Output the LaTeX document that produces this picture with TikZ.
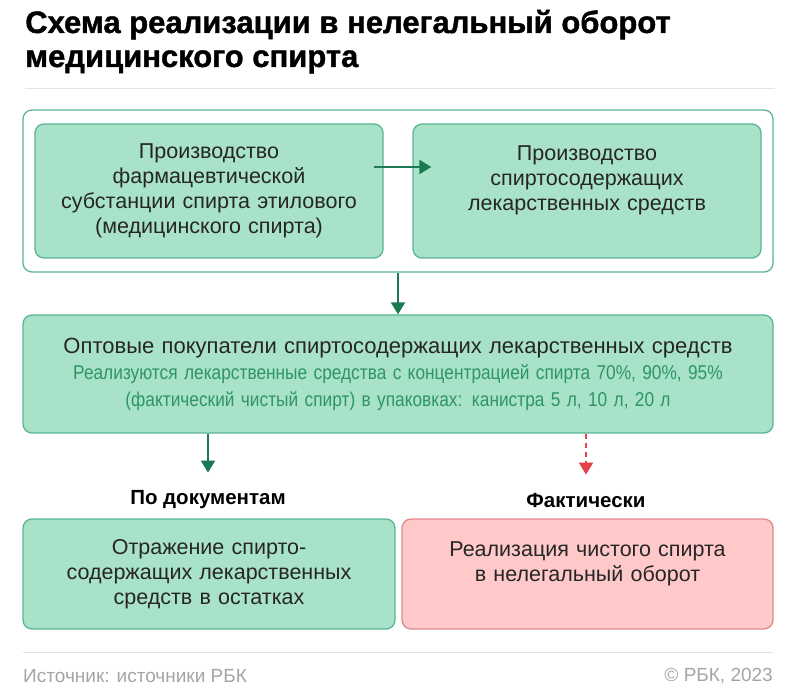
\documentclass[tikz,border=0pt]{standalone}
\usepackage{fontspec}
\setmainfont{Liberation Sans}
\newfontfamily\heavyfont[FakeBold=1.2]{Liberation Sans Bold}
\newcommand{\narrowline}[1]{\scalebox{0.865}[1]{\fontsize{20}{26.5}\selectfont\color{textgreen}#1}}
\usetikzlibrary{arrows.meta}
\definecolor{mint}{HTML}{A8E2C9}
\definecolor{mintline}{HTML}{5CB592}
\definecolor{darkgreen}{HTML}{1C7A52}
\definecolor{textgreen}{HTML}{2F9467}
\definecolor{rose}{HTML}{FFC8C9}
\definecolor{roseline}{HTML}{DE8A8C}
\definecolor{arrowred}{HTML}{E5414A}
\definecolor{rulegray}{HTML}{E2E2E2}
\definecolor{notegray}{HTML}{A5A5A5}

\begin{document}
\begin{tikzpicture}[x=1pt,y=-1pt]
		\tikzset{box/.style={draw=#1,line width=1.3pt,rounded corners=9pt,inner sep=0pt,align=center,text=black!85,font=\fontsize{21.5}{25}\selectfont},
			flow arrow/.style={-{Triangle[length=12pt,width=14pt]},line width=2pt,#1},
			branch label/.style={inner sep=0pt,font=\fontsize{20.5}{24}\selectfont\bfseries}}
		\useasboundingbox[fill=white] (0,0) rectangle (800,700);
		
		% title and rules
		\node[anchor=base west,inner xsep=0pt,font=\fontsize{31}{34}\heavyfont] (title1) at (25,33) {Схема реализации в нелегальный оборот};
		\node[anchor=base west,inner xsep=0pt,font=\fontsize{31}{34}\heavyfont] (title2) at (25,67) {медицинского спирта};
		\draw[rulegray,line width=1pt] (25,89) -- (775,89);
		\draw[rulegray,line width=1pt] (23,652) -- (773,652);
		
		% production
		\node[box=mintline,fill=white,minimum width=750pt,minimum height=162pt] (outer) at (398,191) {};
		\node[box=mintline,fill=mint,minimum width=348pt,minimum height=134pt,text width=336pt] (b1) at (209,191) {Производство\\фармацевтической\\субстанции спирта этилового\\(медицинского спирта)};
		\node[box=mintline,fill=mint,minimum width=348pt,minimum height=134pt,text width=336pt] (b2) at (587,191) {Производство\\спиртосодержащих\\лекарственных средств\\~};
		
		% buyers
		\node[box=mintline,fill=mint,minimum width=750pt,minimum height=118pt,text width=740pt,font=\fontsize{22}{26.5}\selectfont] (buyers) at (398,374) {Оптовые покупатели спиртосодержащих лекарственных средств\\
			\narrowline{Реализуются лекарственные средства с концентрацией спирта 70\%, 90\%, 95\%}\\
			\narrowline{(фактический чистый спирт) в упаковках: канистра 5 л, 10 л, 20 л}};
		
		% outcome
		\node[branch label] (docs) at (208,500) {По документам};
		\node[branch label] (fact) at (586,500) {Фактически};
		\node[box=mintline,fill=mint,minimum width=372pt,minimum height=110pt,text width=360pt] (paper) at (209,574) {Отражение спирто-\\содержащих лекарственных\\средств в остатках};
		\node[box=roseline,fill=rose,minimum width=371pt,minimum height=110pt,text width=360pt] (illegal) at (587.5,574) {Реализация чистого спирта\\в нелегальный оборот\\~};
		
		\draw[flow arrow=darkgreen] ([xshift=-10pt,yshift=24pt]b1.east) -- ([xshift=19pt,yshift=24pt]b2.west);
		\draw[flow arrow=darkgreen] (outer.south) -- (buyers.north);
		\draw[flow arrow=darkgreen,shorten >=18pt] (buyers.south -| docs.north) -- (docs.north);
		\draw[flow arrow=arrowred,dash pattern=on 5pt off 4pt,shorten >=18pt] (buyers.south -| fact.north) -- (fact.north);
		
		% footer
		\node[anchor=west,inner xsep=0pt,text=notegray,font=\fontsize{19}{22}\selectfont] (source) at (23,676) {Источник: источники РБК};
		\node[anchor=east,inner xsep=0pt,text=notegray,font=\fontsize{19}{22}\selectfont] (copyright) at (773,676) {© РБК, 2023};
		\end{tikzpicture}
\end{document}
